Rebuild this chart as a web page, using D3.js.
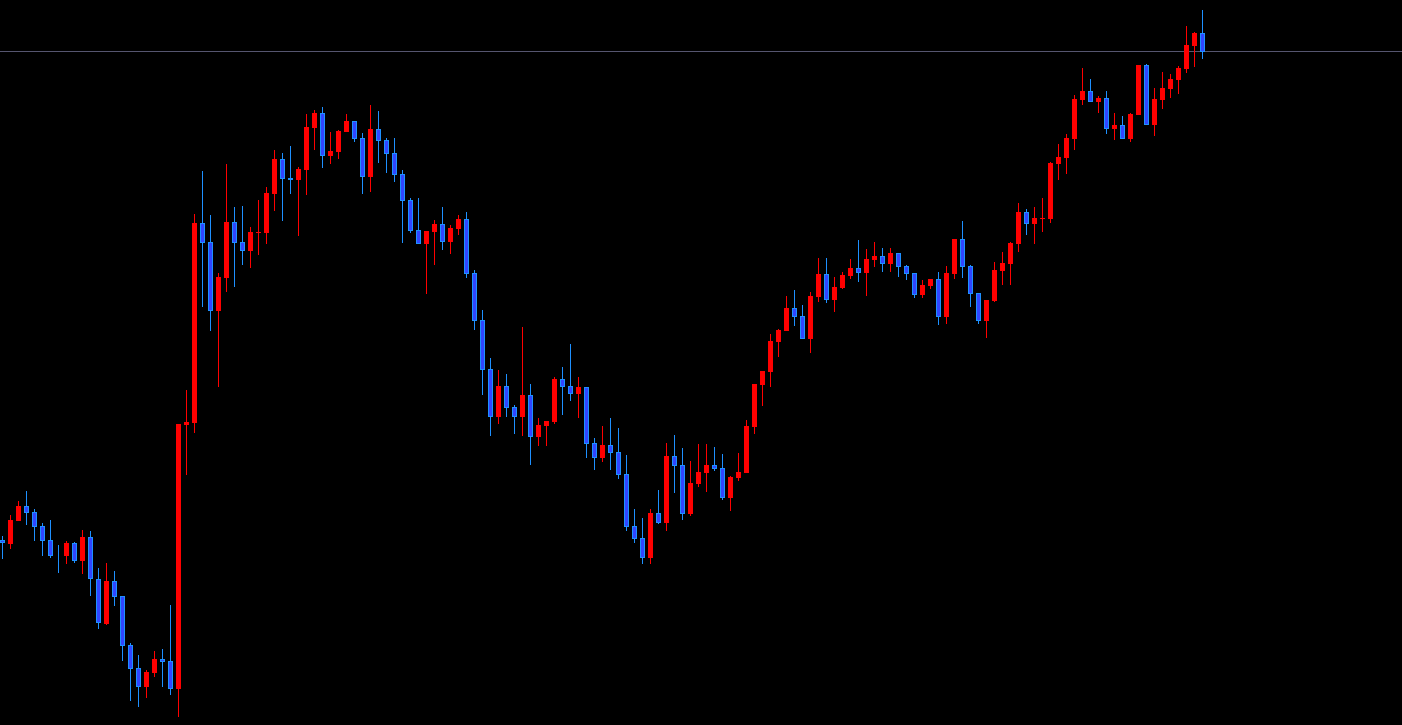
<!DOCTYPE html>
<html>
<head>
<meta charset="utf-8">
<script src="https://cdn.jsdelivr.net/npm/d3@7"></script>
<style>
html,body{margin:0;padding:0;background:#000;overflow:hidden;}
svg{display:block;}
</style>
</head>
<body>
<script>
// Price values (arbitrary point units; no axis shown in the reference)
const openP = [185,181.3,204.3,219,213,199,184.7,170,169.3,182,164.3,187.7,146,101,144,129,80,57,38.3,52,66,64,36.3,300.3,302.3,501.7,482.7,414.3,447.3,502.7,482.7,474.3,492.3,492.3,531.3,566,547,544.7,555.3,597.3,612,569.3,573.3,593.3,604,587,548.3,596,585,572,551,525,495,481.3,493.3,501,483.3,496.3,506,452,405,356,308.3,339,318,308.3,330,288.3,299.3,303.3,346,339,331.3,338,282,267.3,280,273,251,199,187,167.3,212,202.3,269,260,211.3,241.3,252.3,260,257,227.3,247.3,252.3,298.3,340.3,353.3,383.3,394.3,417,409,385.7,428.3,451,425.3,437.3,449.3,457,452.3,465.3,469,461.3,472,459,452,430.3,439.3,446,408.3,451.3,486,459,432,404.3,424.3,454.3,461.3,481.3,513,501.3,506.3,506.3,561.3,567.3,586.3,625.3,634,623.3,627,596.3,600,586.3,610.3,660,600.3,625.3,636.3,645.3,656.3,679.3,692];
const highP = [189,210,224,234,216,202,205,180,184,183,195,194,157,162,154,129,82,70,55,74,76,120,301,335,511,554,510,452,561,518,519,498,525,538,575,572,579,558,611,615,618,593,595,611,604,592,620,614,587,587,555,527,527,494,505,518,500,510,513,455,415,367,355,351,320,398,341,307,304,348,358,381,348,338,287,299,307,297,270,216,207,216,235,282,290,277,264,281,281,278,271,249,272,305,341,354,391,396,429,435,420,433,467,467,448,453,466,485,476,483,477,477,472,460,452,445,446,453,459,486,504,460,432,425,463,473,483,522,516,518,527,563,581,591,630,657,646,629,634,612,609,612,660,661,637,653,651,659,699,693,715];
const lowP = [166,176,204,200.3,184,169.3,167.3,152.3,161.3,162.3,151.3,129.3,96.3,100,119.3,64.3,24.3,18.3,27.3,48.3,38.3,30.3,8.3,250,292.3,418.3,394.3,338.3,433.3,438.3,460.3,457.3,470.3,481.3,514.3,504.3,531.3,489.3,530.3,575,557.3,561.3,566.3,593.3,583.3,531.3,533.3,562.3,552.3,543.3,482.3,492.3,481.3,431.3,460.3,475.3,471.3,490.3,447.3,395.3,330.3,289.3,301.3,308.3,291.3,289.3,260.3,279.3,279.3,301.3,310.3,324.3,307.3,267.3,255,263.3,255.3,246.3,194.3,182.3,161.3,161.3,201.3,194.3,232.3,205.3,209.3,238.3,233.3,254.3,225.3,214.3,244.3,252.3,291.3,319.3,338.3,368.3,394.3,399.3,385.7,371.7,423.3,422.3,413.3,436.3,446.3,443.3,429.3,458.3,453.3,453.3,448.3,445.3,427.3,427.3,436.3,400.3,401.3,446.3,447.3,418.3,401.3,387.3,423.3,440.3,440.3,473.3,490.3,481.3,493.3,502.3,545.3,551.3,575.3,620.3,623.3,612.3,591.3,585.3,586.3,583.3,610.3,600.3,589.3,616.3,627.3,631.3,652.3,658.3,666.3];
const closeP = [182,205,219,212.3,198.3,184.3,169.3,169,182,164.3,188,145.7,101.7,144,128.3,79.3,56.3,38.3,53,66,63.3,36.3,301,303,501.7,482.3,414.3,448,503,482.3,474.3,493,493,532,566,546.3,544.7,556,598,612,569.3,574,594,604,586.3,548.3,596,584.3,571.3,550.3,524.3,494.3,481.3,494,501,483.3,497,506,451.3,404.3,355.3,308.3,339,317.3,308.3,330,288.3,300,304,346,338.3,331.3,338,281.3,267.3,280,272.3,250.3,198.3,186.3,167.3,212,202.3,269,259.3,211.3,242,253,260,256.3,227.3,248,253,299,341,354,384,395,417,408.3,385.7,429,451,425.3,438,450,457,452.3,466,469,461.3,472,458.3,451.3,430.3,440,446,408.3,452,486,458.3,431.3,404.3,425,455,462,482,513,501.3,507,507,562,568,587,626,634,623.3,627,596.3,600,586.3,611,660,600.3,626,637,646,657,680,692,673.3];

const W = 1402, H = 725;
const idx = d3.range(openP.length);
const candles = idx.map(i => ({i, o: openP[i], h: highP[i], l: lowP[i], c: closeP[i]}));

const svg = d3.select("body").append("svg").attr("width", W).attr("height", H);
svg.append("rect").attr("width", W).attr("height", H).attr("fill", "#000");

const x = d3.scaleBand().domain(idx).range([-1.5, -1.5 + 8 * idx.length]).padding(0);
const y = d3.scaleLinear().domain([0, 725]).range([725, 0]);
const cx = i => x(i) + x.bandwidth() / 2;

const UP = "#ff0000", DOWN_WICK = "#1e90ff", DOWN_FILL = "#3045ff";

// bid line at last close
const last = candles[candles.length - 1];
svg.append("line")
  .attr("x1", 0).attr("x2", W)
  .attr("y1", Math.floor(y(last.c)) + 0.5).attr("y2", Math.floor(y(last.c)) + 0.5)
  .attr("stroke", "#55556f").attr("stroke-width", 1);

const g = svg.append("g");
// wicks
g.selectAll("line.wick").data(candles).join("line")
  .attr("class", "wick")
  .attr("x1", d => cx(d.i)).attr("x2", d => cx(d.i))
  .attr("y1", d => Math.round(y(d.h))).attr("y2", d => Math.round(y(d.l)))
  .attr("stroke", d => d.c >= d.o ? UP : DOWN_WICK)
  .attr("stroke-width", 1)
  .attr("shape-rendering", "crispEdges");

// up bodies
g.selectAll("rect.up").data(candles.filter(d => d.c >= d.o)).join("rect")
  .attr("class", "up")
  .attr("x", d => cx(d.i) - 2.5)
  .attr("width", 5)
  .attr("y", d => Math.round(y(d.c)))
  .attr("height", d => Math.max(1, Math.round(y(d.o)) - Math.round(y(d.c))))
  .attr("fill", UP)
  .attr("shape-rendering", "crispEdges");

// down bodies (outlined)
g.selectAll("rect.down").data(candles.filter(d => d.c < d.o)).join("rect")
  .attr("class", "down")
  .attr("x", d => cx(d.i) - 2)
  .attr("width", 4)
  .attr("y", d => Math.round(y(d.o)) + 0.5)
  .attr("height", d => Math.max(0, Math.round(y(d.c)) - Math.round(y(d.o)) - 1))
  .attr("fill", DOWN_FILL)
  .attr("stroke", DOWN_WICK)
  .attr("stroke-width", 1);
</script>
</body>
</html>
